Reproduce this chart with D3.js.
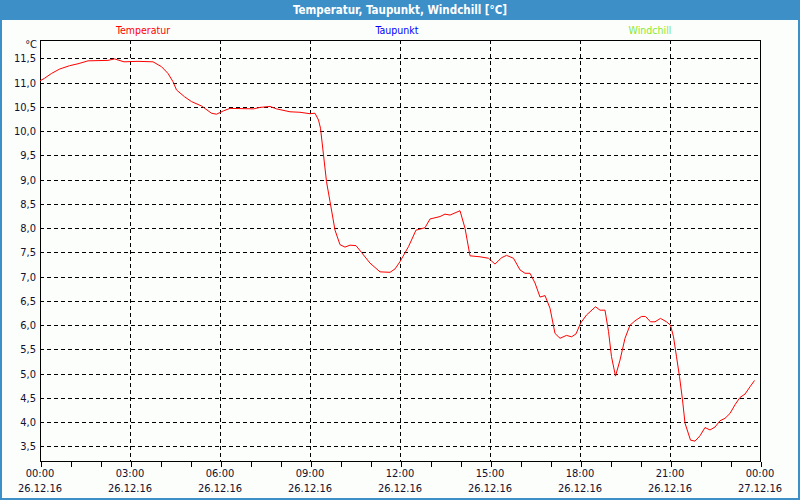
<!DOCTYPE html>
<html><head><meta charset="utf-8">
<script src="https://cdn.jsdelivr.net/npm/d3@7"></script>
<style>html,body{margin:0;padding:0;background:#fcfefc;}svg{display:block;}</style>
</head><body>
<script>
// minutes since 00:00 on 26.12.16
const minutes = [0,9,23,39,59,76,96,136,149,168,196,226,243,256,266,273,289,303,323,343,353,367,380,427,440,460,473,500,520,540,550,557,561,567,573,580,590,600,610,620,632,643,660,680,700,710,720,737,752,770,780,800,810,820,840,850,860,880,897,910,923,933,947,960,970,980,990,1000,1010,1020,1030,1040,1053,1063,1072,1081,1093,1111,1120,1130,1137,1143,1151,1160,1170,1180,1190,1203,1211,1221,1230,1241,1253,1261,1267,1273,1279,1285,1290,1301,1310,1320,1330,1340,1350,1360,1370,1380,1390,1400,1410,1420,1429];
const temperatur = [11.04,11.09,11.19,11.28,11.35,11.39,11.45,11.46,11.49,11.43,11.44,11.43,11.33,11.19,11.02,10.85,10.71,10.61,10.52,10.37,10.35,10.42,10.47,10.46,10.49,10.51,10.46,10.40,10.39,10.36,10.37,10.23,10.06,9.51,8.96,8.55,7.96,7.66,7.61,7.65,7.64,7.50,7.28,7.10,7.09,7.16,7.31,7.62,7.96,8.01,8.19,8.24,8.29,8.27,8.36,8.0,7.43,7.41,7.38,7.26,7.39,7.44,7.38,7.14,7.07,7.07,6.87,6.58,6.61,6.35,5.83,5.73,5.79,5.76,5.82,6.04,6.21,6.38,6.31,6.31,5.87,5.35,4.95,5.28,5.73,6.0,6.09,6.18,6.18,6.07,6.07,6.14,6.07,6.0,5.76,5.35,4.94,4.46,3.98,3.63,3.61,3.72,3.89,3.84,3.90,4.03,4.08,4.18,4.36,4.51,4.58,4.73,4.86];
const yTicks = [3.5,4.0,4.5,5.0,5.5,6.0,6.5,7.0,7.5,8.0,8.5,9.0,9.5,10.0,10.5,11.0,11.5];
const xTickMinutes = [0,180,360,540,720,900,1080,1260,1440];
const xTimeLabels = ["00:00","03:00","06:00","09:00","12:00","15:00","18:00","21:00","00:00"];
const xDateLabels = ["26.12.16","26.12.16","26.12.16","26.12.16","26.12.16","26.12.16","26.12.16","26.12.16","27.12.16"];
const seriesNames = ["Temperatur","Taupunkt","Windchill"];
const seriesColors = ["#ff0000","#0000ff","#88e830"];
const title = "Temperatur, Taupunkt, Windchill [°C]";

const W=800,H=500;
const font="Tahoma, 'DejaVu Sans Condensed', 'Liberation Sans', sans-serif";
const svg=d3.select("body").append("svg").attr("width",W).attr("height",H);
svg.append("rect").attr("width",W).attr("height",H).attr("fill","#fcfefc");
// frame
const blue="#3d8fc7";
svg.append("rect").attr("x",0).attr("y",0).attr("width",W).attr("height",20).attr("fill",blue);
svg.append("rect").attr("x",0).attr("y",0).attr("width",2).attr("height",H).attr("fill",blue);
svg.append("rect").attr("x",W-2).attr("y",0).attr("width",2).attr("height",H).attr("fill",blue);
svg.append("rect").attr("x",0).attr("y",H-2).attr("width",W).attr("height",2).attr("fill",blue);
svg.append("text").attr("x",W/2).attr("y",14).attr("text-anchor","middle")
  .attr("fill","#fff").attr("font-family",font).attr("font-weight","bold").attr("font-size","11.5px").text(title);

const L=40,R=760,T=40,B=461;
const x=d3.scaleLinear().domain([0,1440]).range([L,R]);
const y=d3.scaleLinear().domain([3.2,11.88]).range([B,T]);

// legend
const legX=[143,397,650];
seriesNames.forEach((n,i)=>{
  svg.append("text").attr("x",legX[i]).attr("y",34).attr("text-anchor","middle")
   .attr("fill",seriesColors[i]).attr("font-family",font).attr("font-size","10.5px").text(n);
});

// grid
const g=svg.append("g").attr("shape-rendering","crispEdges");
g.selectAll("line.h").data(yTicks).enter().append("line")
  .attr("x1",L).attr("x2",R).attr("y1",d=>Math.round(y(d))+0.5).attr("y2",d=>Math.round(y(d))+0.5)
  .attr("stroke","#000").attr("stroke-dasharray","4,3");
g.selectAll("line.v").data(xTickMinutes.slice(1,-1)).enter().append("line")
  .attr("y1",T).attr("y2",B).attr("x1",d=>Math.round(x(d))+0.5).attr("x2",d=>Math.round(x(d))+0.5)
  .attr("stroke","#000").attr("stroke-dasharray","4,3");
// box
g.append("rect").attr("x",L+0.5).attr("y",T+0.5).attr("width",R-L).attr("height",B-T)
  .attr("fill","none").attr("stroke","#000").attr("stroke-width",1);

// x axis ticks (hourly)
const xAxis=d3.axisBottom(x).tickValues(d3.range(0,1441,60)).tickSize(5).tickFormat("");
const xa=svg.append("g").attr("transform",`translate(0.5,${B+0.5})`).call(xAxis);
xa.select(".domain").remove();
xa.selectAll("line").attr("stroke","#000").attr("shape-rendering","crispEdges");
const txtCol="#101030";
xTickMinutes.forEach((m,i)=>{
  svg.append("text").attr("x",x(m)).attr("y",477).attr("text-anchor","middle").attr("fill",txtCol)
   .attr("font-family",font).attr("font-size","11px").text(xTimeLabels[i]);
  svg.append("text").attr("x",x(m)).attr("y",492).attr("text-anchor","middle").attr("fill",txtCol)
   .attr("font-family",font).attr("font-size","11px").text(xDateLabels[i]);
});

// y axis labels
const yAxis=d3.axisLeft(y).tickValues(yTicks).tickSize(0).tickPadding(4)
  .tickFormat(d=>d3.format(".1f")(d).replace(".",","));
const ya=svg.append("g").attr("transform",`translate(${L},0)`).call(yAxis);
ya.select(".domain").remove();
ya.selectAll("text").attr("font-family",font).attr("font-size","11px").attr("fill",txtCol);
svg.append("text").attr("x",37).attr("y",48).attr("text-anchor","end").attr("fill",txtCol)
  .attr("font-family",font).attr("font-size","11px").text("°C");

// line
const data=minutes.map((m,i)=>({m,v:temperatur[i]}));
svg.append("path").datum(data).attr("fill","none").attr("stroke",seriesColors[0]).attr("stroke-width",1)
  .attr("d",d3.line().x(d=>x(d.m)).y(d=>y(d.v)));
</script>
</body></html>
